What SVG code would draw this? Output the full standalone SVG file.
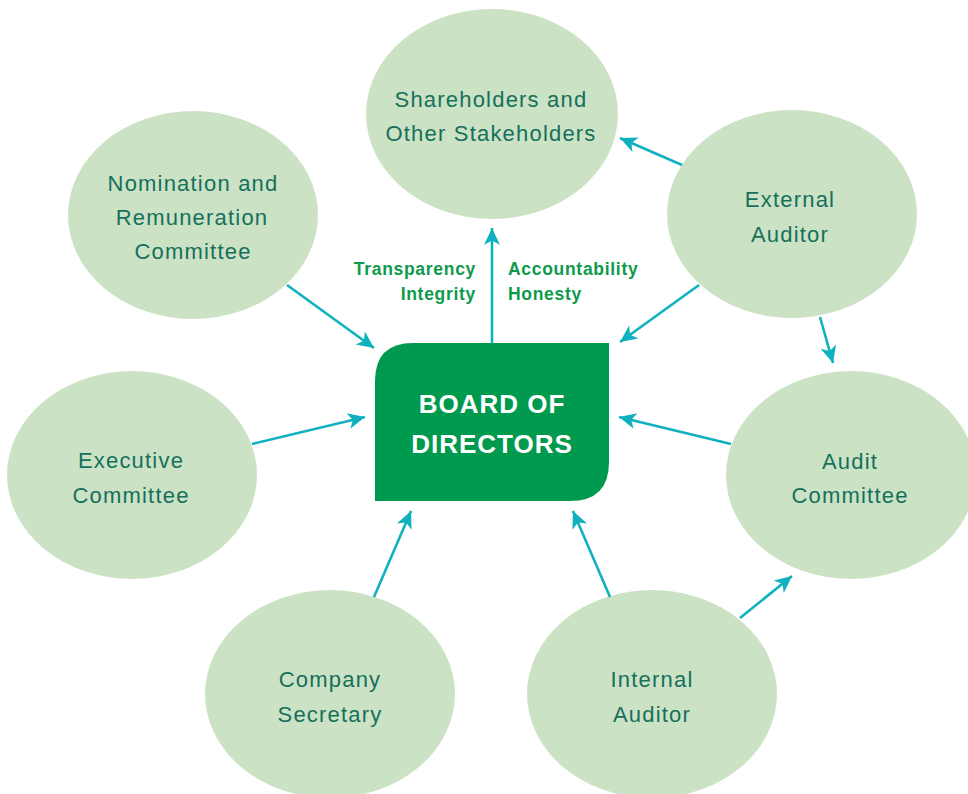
<svg xmlns="http://www.w3.org/2000/svg" width="968" height="794" viewBox="0 0 968 794">
<defs>
<style>
.node ellipse{fill:#cce2c5}
.nt{font-family:"Liberation Sans",Arial,sans-serif;font-size:22px;fill:#15705c;text-anchor:middle;letter-spacing:1.2px}
.bt{font-family:"Liberation Sans",Arial,sans-serif;font-size:26px;font-weight:bold;fill:#ffffff;text-anchor:middle;letter-spacing:1px}
.lb{font-family:"Liberation Sans",Arial,sans-serif;font-size:17.5px;font-weight:bold;fill:#0e9a4c;letter-spacing:0.7px}
.conn line{stroke:#10b1bf;stroke-width:2.6;fill:none;marker-end:url(#ah)}
</style>
<marker id="ah" markerUnits="userSpaceOnUse" markerWidth="22" markerHeight="20" viewBox="-2 -10 22 20" refX="17" refY="0" orient="auto">
<path d="M0,-8 L17,0 L0,8 L4.5,0 Z" fill="#10b1bf"/>
</marker>
</defs>
<rect width="968" height="794" fill="#ffffff"/>

<g id="shareholders" class="node"><ellipse cx="492" cy="114" rx="126" ry="105"/>
<text class="nt" x="491" y="107">Shareholders and</text><text class="nt" x="491" y="141">Other Stakeholders</text></g>

<g id="nomination" class="node"><ellipse cx="193" cy="215" rx="125" ry="104"/>
<text class="nt" x="193" y="191">Nomination and</text><text class="nt" x="192" y="225">Remuneration</text><text class="nt" x="193" y="259">Committee</text></g>

<g id="external" class="node"><ellipse cx="792" cy="214" rx="125" ry="104"/>
<text class="nt" x="790" y="207">External</text><text class="nt" x="790" y="242">Auditor</text></g>

<g id="executive" class="node"><ellipse cx="132" cy="475" rx="125" ry="104"/>
<text class="nt" x="131" y="468">Executive</text><text class="nt" x="131" y="503">Committee</text></g>

<g id="audit" class="node"><ellipse cx="851" cy="475" rx="125" ry="104"/>
<text class="nt" x="850" y="469">Audit</text><text class="nt" x="850" y="503">Committee</text></g>

<g id="secretary" class="node"><ellipse cx="330" cy="694" rx="125" ry="104"/>
<text class="nt" x="330" y="687">Company</text><text class="nt" x="330" y="722">Secretary</text></g>

<g id="internal" class="node"><ellipse cx="652" cy="694" rx="125" ry="104"/>
<text class="nt" x="652" y="687">Internal</text><text class="nt" x="652" y="722">Auditor</text></g>

<g id="board">
<path d="M413,343 L609,343 L609,462 Q609,501 570,501 L375,501 L375,381 Q375,343 413,343 Z" fill="#009a4e"/>
<text class="bt" x="492" y="413">BOARD OF</text>
<text class="bt" x="492" y="453">DIRECTORS</text>
</g>

<g id="labels">
<text class="lb" x="476" y="275" text-anchor="end">Transparency</text>
<text class="lb" x="476" y="300" text-anchor="end">Integrity</text>
<text class="lb" x="508" y="275">Accountability</text>
<text class="lb" x="508" y="300">Honesty</text>
</g>

<g id="connectors" class="conn">
<line x1="492" y1="343" x2="492" y2="228"/>
<line x1="682" y1="165" x2="620" y2="138"/>
<line x1="699" y1="285" x2="620" y2="342"/>
<line x1="820" y1="317" x2="833" y2="363"/>
<line x1="287" y1="285" x2="374" y2="348"/>
<line x1="252" y1="444" x2="365" y2="417"/>
<line x1="731" y1="444" x2="619" y2="417"/>
<line x1="374" y1="597" x2="411" y2="511"/>
<line x1="610" y1="597" x2="573" y2="511"/>
<line x1="740" y1="618" x2="792" y2="576"/>
</g>
</svg>
